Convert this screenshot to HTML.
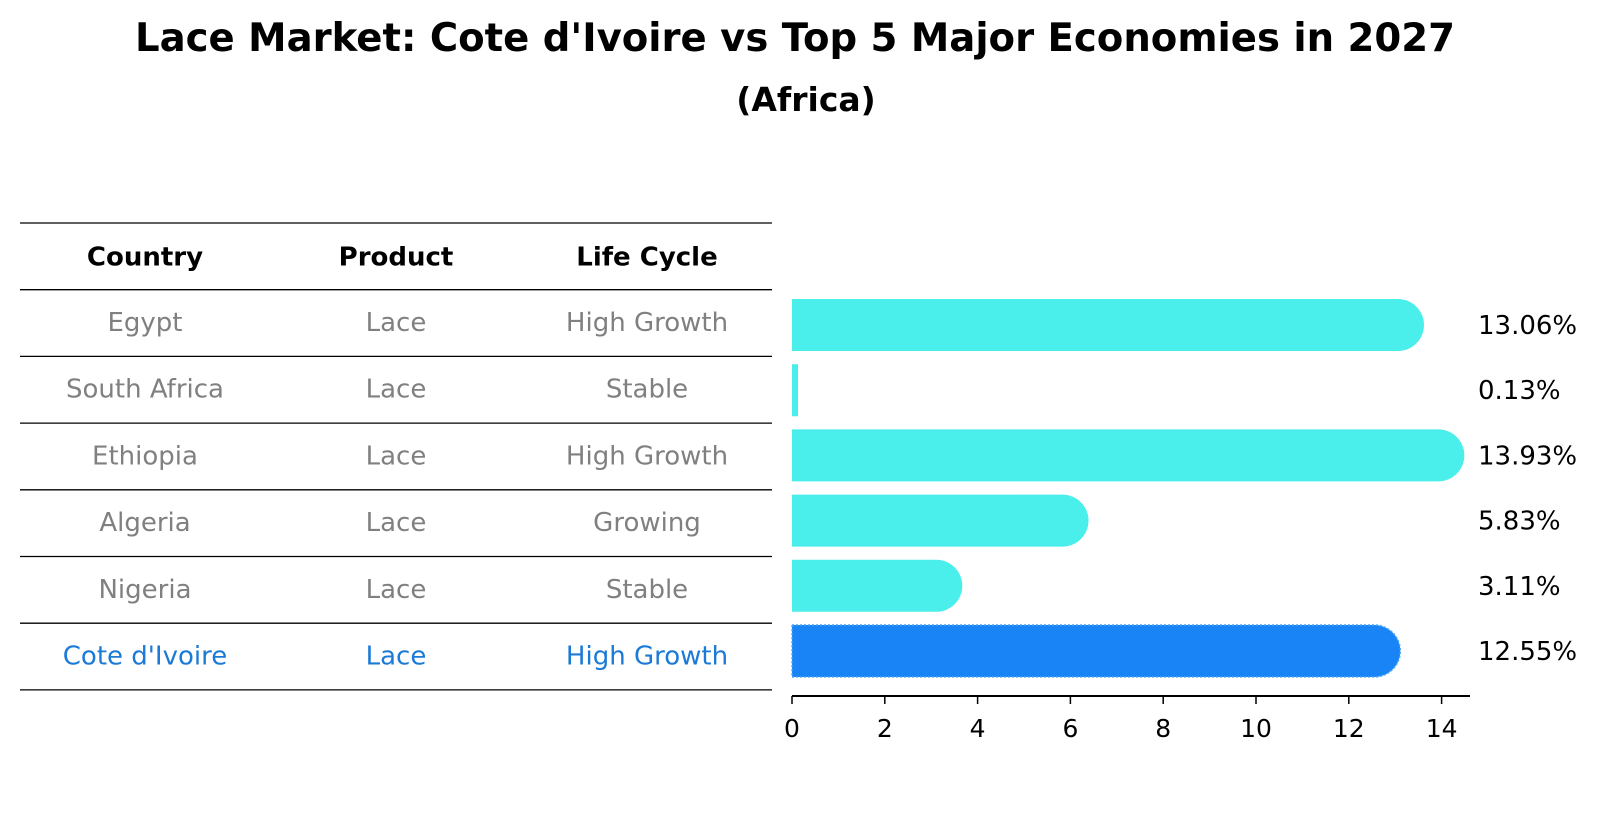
<!DOCTYPE html>
<html><head><meta charset="utf-8"><style>
html,body{margin:0;padding:0;background:#fff;}
svg{display:block;font-family:"DejaVu Sans","Liberation Sans",sans-serif;}
</style></head><body>
<svg id="chart" width="1604" height="823" viewBox="0 0 1604 823" xmlns="http://www.w3.org/2000/svg">
<text x="795" y="51" text-anchor="middle" font-size="39" font-weight="bold" textLength="1320" lengthAdjust="spacingAndGlyphs">Lace Market: Cote d'Ivoire vs Top 5 Major Economies in 2027</text>
<text x="806" y="111" text-anchor="middle" font-size="33" font-weight="bold">(Africa)</text>
<g id="table"></g>
<g id="bars"></g>
</svg>
<script>
const countries = ["Egypt","South Africa","Ethiopia","Algeria","Nigeria","Cote d'Ivoire"];
const products = ["Lace","Lace","Lace","Lace","Lace","Lace"];
const lifeCycles = ["High Growth","Stable","High Growth","Growing","Stable","High Growth"];
const values = [13.06,0.13,13.93,5.83,3.11,12.55];
const valueLabels = ["13.06%","0.13%","13.93%","5.83%","3.11%","12.55%"];
const xTicks = [0,2,4,6,8,10,12,14];

const NS="http://www.w3.org/2000/svg";
function mk(tag,attrs,parent){const e=document.createElementNS(NS,tag);for(const k in attrs)e.setAttribute(k,attrs[k]);parent.appendChild(e);return e;}
const xScale=v=>792+v*46.4;
const rowCenter=i=>325+i*65.2;

// table
const tbl=document.getElementById('table');
const lineYs=[];for(let i=0;i<=7;i++)lineYs.push(223+i*66.7);
lineYs.forEach((y,i)=>{
  const l=mk('line',{x1:20,x2:772,y1:y,y2:y,stroke:'#000','stroke-width':1.3},tbl);
  
  
});
const colX=[145,396,647];
["Country","Product","Life Cycle"].forEach((h,c)=>{
  const t=mk('text',{x:colX[c],y:256.5+9,'text-anchor':'middle','font-size':26,'font-weight':'bold'},tbl);
  t.textContent=h;
  
  
});
countries.forEach((cn,i)=>{
  const cy=223+66.7*(i+1)+33.3;
  const col=i===countries.length-1?'#1a7ad6':'#808080';
  [cn,products[i],lifeCycles[i]].forEach((s,c)=>{
    const t=mk('text',{x:colX[c],y:cy+8,'text-anchor':'middle','font-size':26,fill:col},tbl);
    t.textContent=s;
    
    
  });
});

// bars
const g=document.getElementById('bars');
const h=52,r=26;
values.forEach((v,i)=>{
  const cy=rowCenter(i),x0=xScale(0),x1=xScale(v);
  const hi=i===values.length-1;
  const fill=hi?'#1984f5':'#4aeeea';
  let d;
  if(x1-x0>r){d=`M${x0},${cy-h/2} L${x1},${cy-h/2} A${r},${r} 0 0 1 ${x1},${cy+h/2} L${x0},${cy+h/2} Z`;}
  else{d=`M${x0},${cy-h/2} L${x1},${cy-h/2} L${x1},${cy+h/2} L${x0},${cy+h/2} Z`;}
  const p=mk('path',{d:d,fill:fill},g);
  if(hi){p.setAttribute('stroke','#4aa6fa');p.setAttribute('stroke-dasharray','2 2');p.setAttribute('stroke-width','1.5');}
  
  
  const t=mk('text',{x:1478,y:cy+9,'font-size':26},g);
  t.textContent=valueLabels[i];
  
  
});
// axis
const ax=mk('line',{x1:xScale(0),x2:1470,y1:696,y2:696,stroke:'#000','stroke-width':2},g);


xTicks.forEach(v=>{
  const tk=mk('line',{x1:xScale(v),x2:xScale(v),y1:696,y2:704,stroke:'#000','stroke-width':1.5},g);
  
  
  const t=mk('text',{x:xScale(v),y:737,'text-anchor':'middle','font-size':25},g);
  t.textContent=String(v);
  
  
});
</script>
</body></html>
